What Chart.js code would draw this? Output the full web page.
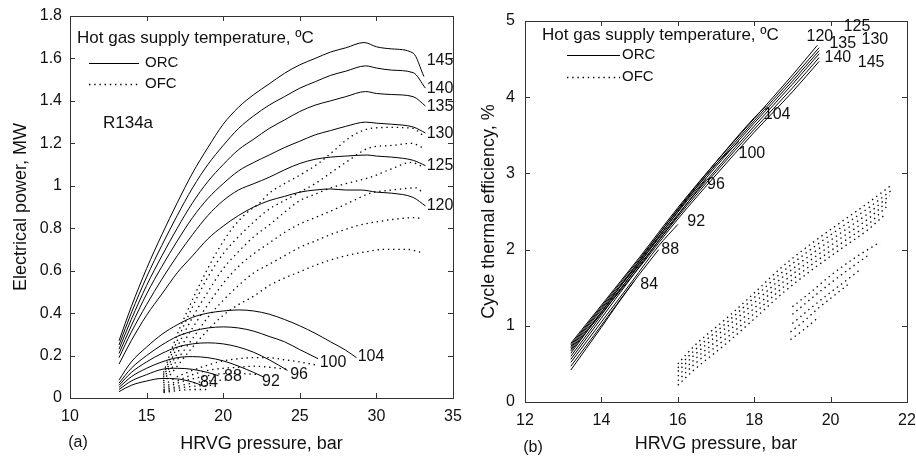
<!DOCTYPE html>
<html>
<head>
<meta charset="utf-8">
<script src="https://cdn.jsdelivr.net/npm/chart.js@4.4.1/dist/chart.umd.min.js"></script>
<style>
  html, body { margin: 0; padding: 0; background: #fff; }
  #wrap { position: relative; width: 916px; height: 457px; }
  canvas { position: absolute; top: 0; }
</style>
</head>
<body>
<div id="wrap">
  <canvas id="powerChart" width="475" height="457" style="left:0"></canvas>
  <canvas id="effChart" width="456" height="457" style="left:460px"></canvas>
</div>
<script>
// hot gas supply temperatures, ºC
const highTemps = [120, 125, 130, 135, 140, 145];
const lowTemps = [84, 88, 92, 96, 100, 104];

// (a) electrical power, MW  -- points are [HRVG pressure bar, power MW]
const powerOrcHigh = [
  [[13.2,0.16],[14,0.27],[15,0.39],[16,0.49],[17,0.59],[18,0.67],[19,0.75],[20,0.81],[21,0.86],[22,0.90],[23,0.93],[24,0.95],[25,0.97],[26,0.98],[27,0.985],[28,0.98],[29,0.98],[30,0.97],[31,0.965],[32.4,0.945],[33.2,0.905]],
  [[13.2,0.19],[14,0.31],[15,0.44],[16,0.56],[17,0.67],[18,0.77],[19,0.86],[20,0.93],[21,0.98],[22,1.01],[23,1.04],[24,1.075],[25,1.105],[26,1.125],[27,1.135],[28,1.14],[29.4,1.145],[30,1.14],[31,1.135],[32.4,1.12],[33.2,1.095]],
  [[13.2,0.21],[14,0.34],[15,0.49],[16,0.62],[17,0.74],[18,0.85],[19,0.94],[20,1.01],[21,1.07],[22,1.11],[23,1.145],[24,1.18],[25,1.21],[26,1.24],[27,1.26],[28,1.28],[29.3,1.30],[30,1.295],[31,1.29],[32.4,1.277],[33.2,1.249]],
  [[13.2,0.23],[14,0.37],[15,0.53],[16,0.67],[17,0.80],[18,0.92],[19,1.02],[20,1.10],[21,1.17],[22,1.22],[23,1.27],[24,1.31],[25,1.35],[26,1.38],[27,1.40],[28,1.42],[29.3,1.444],[30,1.435],[31,1.43],[32.4,1.42],[33.2,1.376]],
  [[13.2,0.25],[14,0.40],[15,0.57],[16,0.72],[17,0.86],[18,0.99],[19,1.10],[20,1.19],[21,1.27],[22,1.33],[23,1.38],[24,1.42],[25,1.46],[26,1.49],[27,1.52],[28,1.54],[29.3,1.565],[30,1.555],[31,1.545],[32.4,1.533],[33.2,1.46]],
  [[13.2,0.27],[14,0.43],[15,0.61],[16,0.77],[17,0.92],[18,1.06],[19,1.18],[20,1.29],[21,1.37],[22,1.43],[23,1.48],[24,1.53],[25,1.57],[26,1.60],[27,1.63],[28,1.65],[29.2,1.675],[30,1.655],[31,1.645],[32.4,1.625],[33.1,1.515]]
];
const powerOrcLow = [
  [[13.2,0.03],[14,0.06],[15,0.08],[16,0.092],[17,0.09],[18,0.075],[18.6,0.06]],
  [[13.2,0.04],[14,0.08],[15,0.11],[16,0.135],[17,0.14],[18,0.135],[19,0.12],[19.7,0.105]],
  [[13.2,0.05],[14,0.10],[15,0.14],[16,0.17],[17,0.19],[18,0.195],[19,0.19],[20,0.175],[21,0.15],[22,0.12],[22.6,0.10]],
  [[13.2,0.06],[14,0.12],[15,0.17],[16,0.21],[17,0.24],[18,0.255],[19,0.26],[20,0.255],[21,0.24],[22,0.215],[23,0.18],[24.2,0.13]],
  [[13.2,0.07],[14,0.14],[15,0.20],[16,0.25],[17,0.29],[18,0.315],[19,0.33],[20,0.335],[21,0.33],[22,0.315],[23,0.29],[24,0.265],[25,0.228],[26.2,0.185]],
  [[13.2,0.085],[14,0.17],[15,0.24],[16,0.30],[17,0.345],[18,0.38],[19,0.40],[20,0.41],[21,0.415],[22,0.41],[23,0.395],[24,0.37],[25,0.34],[26,0.305],[27,0.265],[28,0.225],[28.7,0.19]]
];
const powerOfcHigh = [
  [[16.1,0.07],[17,0.15],[18,0.24],[19,0.32],[20,0.39],[21,0.44],[22,0.48],[23,0.53],[24,0.565],[25,0.595],[26,0.625],[27,0.65],[28,0.67],[29.4,0.69],[30.5,0.70],[32,0.70],[33,0.685]],
  [[16.1,0.08],[17,0.18],[18,0.28],[19,0.38],[20,0.46],[21,0.53],[22,0.59],[23,0.63],[24,0.67],[25,0.71],[26,0.74],[27,0.77],[28,0.795],[28.9,0.815],[30,0.83],[31.5,0.845],[32.6,0.85],[33,0.84]],
  [[16.1,0.09],[17,0.21],[18,0.33],[19,0.44],[20,0.54],[21,0.62],[22,0.68],[23,0.73],[24,0.78],[25,0.82],[26,0.85],[27,0.88],[28.5,0.93],[29.6,0.965],[31,0.98],[32.6,0.99],[33,0.97]],
  [[16.1,0.10],[17,0.24],[18,0.38],[19,0.50],[20,0.61],[21,0.69],[22,0.76],[23,0.815],[24,0.875],[25,0.93],[26,0.96],[27,0.99],[28,1.01],[29.6,1.04],[31,1.08],[32.3,1.11],[33,1.09]],
  [[16.1,0.11],[17,0.27],[18,0.43],[19,0.57],[20,0.68],[21,0.76],[22,0.83],[23,0.89],[24,0.93],[25,0.97],[26,1.01],[27,1.06],[28,1.11],[29.6,1.18],[31,1.19],[32.3,1.20],[33,1.18]],
  [[16.1,0.12],[17,0.30],[17.6,0.40],[18.5,0.54],[19.6,0.69],[20.6,0.80],[21.5,0.87],[22.4,0.92],[23,0.965],[24,1.01],[25,1.05],[26.3,1.11],[27.3,1.17],[28.3,1.23],[29.6,1.27],[31,1.275],[32.4,1.27],[33,1.24]]
];
const powerOfcLow = [
  [[16.1,0.025],[17,0.035],[18,0.04],[19,0.04]],
  [[16.1,0.03],[17,0.045],[18,0.055],[19.3,0.06]],
  [[16.1,0.035],[17,0.055],[18,0.07],[19,0.08],[20.2,0.085]],
  [[16.1,0.04],[17,0.07],[18,0.09],[19,0.105],[20,0.115],[21,0.115],[22.4,0.11]],
  [[16.1,0.05],[17,0.08],[18,0.11],[19,0.13],[20,0.14],[21,0.145],[22,0.15],[23,0.145],[24.2,0.135]],
  [[16.1,0.06],[17,0.10],[18,0.13],[19,0.155],[20,0.175],[21,0.185],[22,0.19],[23,0.19],[24,0.18],[25,0.17],[26.1,0.155]]
];
// where the temperature numbers sit in (a), data units
const powerLabelHigh = [[34.15,0.905],[34.15,1.093],[34.15,1.244],[34.15,1.371],[34.15,1.456],[34.15,1.588]];
const powerLabelLow = [[19.07,0.071],[20.64,0.099],[23.12,0.075],[24.95,0.108],[27.17,0.165],[29.65,0.193]];

// (b) cycle thermal efficiency, %  -- points are [HRVG pressure bar, efficiency %]
const effOrcHigh = [
  [[13.2,0.77],[14,1.27],[15,1.90],[16,2.55],[17,3.15],[18,3.72],[19,4.29],[19.65,4.68]],
  [[13.2,0.75],[14,1.25],[15,1.88],[16,2.52],[17,3.12],[18,3.69],[19,4.25],[19.7,4.65]],
  [[13.2,0.73],[14,1.23],[15,1.85],[16,2.49],[17,3.09],[18,3.66],[19,4.21],[19.7,4.61]],
  [[13.2,0.71],[14,1.21],[15,1.83],[16,2.46],[17,3.05],[18,3.62],[19,4.17],[19.7,4.57]],
  [[13.2,0.69],[14,1.18],[15,1.80],[16,2.43],[17,3.02],[18,3.58],[19,4.12],[19.7,4.52]],
  [[13.2,0.67],[14,1.16],[15,1.77],[16,2.40],[17,2.98],[18,3.54],[19,4.07],[19.7,4.47]]
];
const effOrcLow = [
  [[13.2,0.42],[13.6,0.70],[14.0,0.98],[14.4,1.27],[14.85,1.58]],
  [[13.2,0.47],[13.8,0.87],[14.4,1.28],[15.0,1.68],[15.5,2.0]],
  [[13.2,0.52],[14,1.05],[14.8,1.58],[15.5,2.05],[16.0,2.33]],
  [[13.2,0.56],[14,1.10],[15,1.78],[16,2.45],[16.75,2.93]],
  [[13.2,0.60],[14,1.14],[15,1.82],[16,2.50],[17,3.12],[17.6,3.42]],
  [[13.2,0.64],[14,1.18],[15,1.86],[16,2.53],[17,3.15],[18,3.73],[18.3,3.88]]
];
const effOfcMain = [
  [[16.0,0.50],[16.4,0.72],[17.3,1.11],[18.0,1.43],[18.7,1.76],[19.5,2.08],[20.3,2.37],[21.0,2.62],[21.6,2.85]],
  [[16.0,0.45],[16.4,0.66],[17.3,1.05],[18.0,1.37],[18.7,1.69],[19.5,2.01],[20.3,2.30],[21.0,2.55],[21.6,2.78]],
  [[16.0,0.40],[16.4,0.60],[17.3,0.99],[18.0,1.30],[18.7,1.62],[19.5,1.94],[20.3,2.23],[21.0,2.48],[21.55,2.71]],
  [[16.0,0.34],[16.4,0.54],[17.3,0.92],[18.0,1.23],[18.7,1.55],[19.5,1.87],[20.3,2.16],[21.0,2.41],[21.5,2.64]],
  [[16.0,0.28],[16.4,0.48],[17.3,0.85],[18.0,1.16],[18.7,1.48],[19.5,1.80],[20.3,2.09],[21.0,2.34],[21.5,2.58]],
  [[16.0,0.22],[16.4,0.41],[17.3,0.78],[18.0,1.09],[18.7,1.41],[19.5,1.73],[20.3,2.02],[21.0,2.27],[21.4,2.45]]
];
const effOfcSecond = [
  [[19.0,1.25],[19.5,1.45],[20.0,1.66],[20.6,1.88],[21.3,2.10]],
  [[19.0,1.15],[19.5,1.36],[20.0,1.56],[20.5,1.75],[21.0,1.93]],
  [[19.0,1.03],[19.5,1.24],[20.0,1.44],[20.5,1.63],[20.8,1.75]],
  [[18.95,0.92],[19.3,1.06],[19.7,1.24],[20.1,1.40],[20.5,1.56]],
  [[18.95,0.82],[19.3,0.95],[19.7,1.12]]
];
const effLabelHigh = [[19.72,4.80],[20.69,4.93],[21.16,4.76],[20.32,4.70],[20.19,4.52],[21.06,4.45]];
const effLabelLow = [[15.25,1.545],[15.80,2.00],[16.48,2.37],[17.0,2.85],[17.94,3.26],[18.60,3.77]];

const FONT = "'Liberation Sans', Arial, sans-serif";
const INK = '#111';
const DOTS = [1.4, 3.8];
Chart.defaults.font.family = FONT;
Chart.defaults.color = INK;

function curves(list, dotted) {
  return list.map(c => ({
    data: c.map(p => ({ x: p[0], y: p[1] })),
    showLine: true,
    borderColor: '#000',
    borderWidth: dotted ? 1.3 : 1,
    borderDash: dotted ? DOTS : [],
    pointRadius: 0,
    cubicInterpolationMode: 'monotone'
  }));
}

function labelList(temps, spots) {
  return temps.map((t, i) => ({ text: String(t), x: spots[i][0], y: spots[i][1] }));
}

// frame with inward ticks, legend, curve numbers, notes
const decor = {
  id: 'decor',
  afterDraw(chart, args, o) {
    const { ctx, chartArea: a, scales: { x, y } } = chart;
    ctx.save();
    ctx.strokeStyle = '#333';
    ctx.lineWidth = 1;
    ctx.setLineDash([]);
    ctx.strokeRect(a.left + 0.5, a.top + 0.5, a.right - a.left, a.bottom - a.top);
    ctx.beginPath();
    x.ticks.forEach(t => {
      const px = Math.round(x.getPixelForValue(t.value)) + 0.5;
      ctx.moveTo(px, a.bottom); ctx.lineTo(px, a.bottom - 5);
      ctx.moveTo(px, a.top); ctx.lineTo(px, a.top + 5);
    });
    y.ticks.forEach(t => {
      const py = Math.round(y.getPixelForValue(t.value)) + 0.5;
      ctx.moveTo(a.left, py); ctx.lineTo(a.left + 5, py);
      ctx.moveTo(a.right, py); ctx.lineTo(a.right - 5, py);
    });
    ctx.stroke();

    const lg = o.legend;
    ctx.fillStyle = INK;
    ctx.textBaseline = 'middle';
    ctx.textAlign = 'left';
    ctx.font = '17px ' + FONT;
    ctx.fillText('Hot gas supply temperature, ºC', lg.titleX, lg.titleY);
    ctx.font = '15px ' + FONT;
    ctx.fillText('ORC', lg.textX, lg.orcY);
    ctx.fillText('OFC', lg.textX, lg.ofcY);
    ctx.strokeStyle = '#000';
    ctx.beginPath();
    ctx.moveTo(lg.x0, lg.orcY + 0.5); ctx.lineTo(lg.x1, lg.orcY + 0.5);
    ctx.stroke();
    ctx.setLineDash(DOTS);
    ctx.lineWidth = 1.3;
    ctx.beginPath();
    ctx.moveTo(lg.x0, lg.ofcY + 0.5); ctx.lineTo(lg.x1, lg.ofcY + 0.5);
    ctx.stroke();
    ctx.setLineDash([]);

    ctx.font = '16px ' + FONT;
    ctx.textAlign = 'center';
    o.labels.forEach(l => {
      ctx.fillText(l.text, x.getPixelForValue(l.x), y.getPixelForValue(l.y));
    });
    o.notes.forEach(n => {
      ctx.font = n.size + 'px ' + FONT;
      ctx.fillText(n.text, n.x, n.y);
    });
    ctx.restore();
  }
};

function makeOptions(cfg) {
  return {
    responsive: false,
    animation: false,
    events: [],
    layout: { padding: { left: 0, right: cfg.padRight, top: cfg.padTop, bottom: 0 } },
    plugins: {
      legend: { display: false },
      tooltip: { enabled: false },
      decor: { legend: cfg.legend, labels: cfg.labels, notes: cfg.notes }
    },
    scales: {
      x: {
        type: 'linear', min: cfg.xMin, max: cfg.xMax,
        grid: { display: false, drawTicks: false },
        border: { display: false },
        ticks: { stepSize: cfg.xStep, autoSkip: false, maxRotation: 0, padding: 9, font: { size: 16 }, color: INK },
        title: { display: true, text: 'HRVG pressure, bar', font: { size: 18 }, color: INK, padding: { top: 0, bottom: 2 } },
        afterFit: s => { s.height = cfg.xHeight; s.paddingLeft = 0; s.paddingRight = 0; }
      },
      y: {
        min: cfg.yMin, max: cfg.yMax,
        grid: { display: false, drawTicks: false },
        border: { display: false },
        ticks: {
          stepSize: cfg.yStep, padding: cfg.yPad, font: { size: 16 }, color: INK,
          callback: v => String(Math.round(v * 10) / 10)
        },
        title: { display: true, text: cfg.yTitle, font: { size: 18 }, color: INK, padding: { top: cfg.yTitlePad, bottom: 0 } },
        afterFit: s => { s.width = cfg.yWidth; s.paddingTop = 0; s.paddingBottom = 0; }
      }
    }
  };
}

new Chart(document.getElementById('powerChart'), {
  type: 'scatter',
  data: {
    datasets: [
      ...curves(powerOrcHigh, false),
      ...curves(powerOrcLow, false),
      ...curves(powerOfcHigh, true),
      ...curves(powerOfcLow, true)
    ]
  },
  options: makeOptions({
    xMin: 10, xMax: 35, xStep: 5, yMin: 0, yMax: 1.8, yStep: 0.2,
    padTop: 16, padRight: 22, xHeight: 59, yWidth: 70, yPad: 8, yTitlePad: 10,
    yTitle: 'Electrical power, MW',
    legend: { titleX: 77, titleY: 38, x0: 89, x1: 139, textX: 145, orcY: 63, ofcY: 84 },
    labels: [...labelList(highTemps, powerLabelHigh), ...labelList(lowTemps, powerLabelLow)],
    notes: [{ text: 'R134a', x: 128, y: 123, size: 17 }, { text: '(a)', x: 78, y: 443, size: 16 }]
  }),
  plugins: [decor]
});

new Chart(document.getElementById('effChart'), {
  type: 'scatter',
  data: {
    datasets: [
      ...curves(effOrcHigh, false),
      ...curves(effOrcLow, false),
      ...curves(effOfcMain, true),
      ...curves(effOfcSecond, true)
    ]
  },
  options: makeOptions({
    xMin: 12, xMax: 22, xStep: 2, yMin: 0, yMax: 5, yStep: 1,
    padTop: 21, padRight: 9, xHeight: 55, yWidth: 65, yPad: 10, yTitlePad: 18,
    yTitle: 'Cycle thermal efficiency, %',
    legend: { titleX: 82, titleY: 35, x0: 107, x1: 160, textX: 162, orcY: 55, ofcY: 77 },
    labels: [...labelList(highTemps, effLabelHigh), ...labelList(lowTemps, effLabelLow)],
    notes: [{ text: '(b)', x: 73, y: 448, size: 16 }]
  }),
  plugins: [decor]
});
</script>
</body>
</html>
